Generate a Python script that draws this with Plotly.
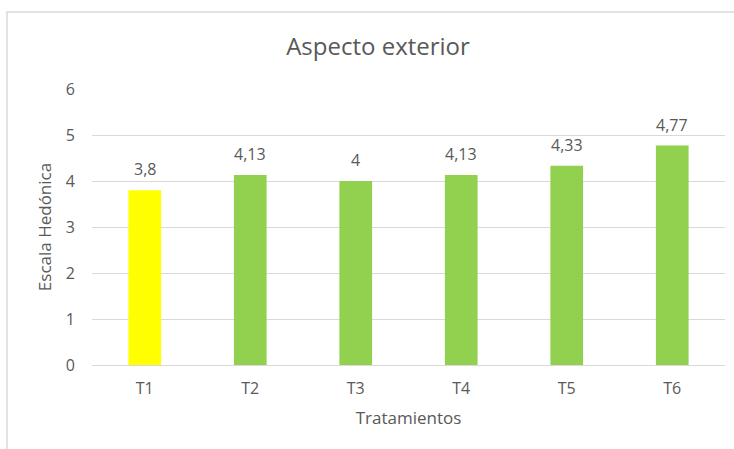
import plotly.graph_objects as go

categories = ["T1", "T2", "T3", "T4", "T5", "T6"]
values = [3.8, 4.13, 4.0, 4.13, 4.33, 4.77]
bar_colors = ["#FFFF00", "#92D050", "#92D050", "#92D050", "#92D050", "#92D050"]
y_ticks = [0, 1, 2, 3, 4, 5, 6]

labels = [("%g" % v).replace(".", ",") for v in values]

W, H = 734, 449
L, R, T, B = 92, 9, 89, 84

font_family = "Open Sans, Liberation Sans, sans-serif"
grey = "#595959"

fig = go.Figure(go.Bar(
    x=categories, y=values, marker=dict(color=bar_colors, line=dict(width=0)),
    width=0.31, cliponaxis=False,
))

for c, v, t in zip(categories, values, labels):
    fig.add_annotation(x=c, y=v, text=t, showarrow=False, yanchor="bottom", yshift=8,
                       font=dict(size=16, color=grey, family=font_family))

pw = W - L - R
ph = H - T - B
fig.update_layout(
    width=W, height=H, margin=dict(l=L, r=R, t=T, b=B),
    plot_bgcolor="white", paper_bgcolor="white",
    font=dict(family=font_family, color=grey, size=16),
    title=dict(text="Aspecto exterior", x=378 / W, xanchor="center",
               y=1 - 47 / H, yanchor="middle", font=dict(size=24, color=grey)),
    xaxis=dict(title=dict(text="Tratamientos", standoff=14, font=dict(size=17, color=grey)),
               showgrid=False, ticks="", ticklabelstandoff=12,
               tickfont=dict(size=16, color=grey), showline=False),
    yaxis=dict(title=dict(text="Escala Hedónica", standoff=9, font=dict(size=17, color=grey)),
               range=[0, 6], tickvals=y_ticks, showgrid=True, gridcolor="#D9D9D9",
               gridwidth=1, zeroline=True, zerolinecolor="#D9D9D9", zerolinewidth=1,
               ticks="", ticklabelstandoff=16, tickfont=dict(size=16, color=grey)),
    showlegend=False,
    shapes=[dict(type="rect", xref="paper", yref="paper",
                 x0=(7 - L) / pw, x1=1.2, y0=-0.5, y1=1 + (T - 12) / ph,
                 line=dict(color="#D9D9D9", width=1.5), fillcolor="rgba(0,0,0,0)", layer="below")],
)

fig.write_html("out.html")
